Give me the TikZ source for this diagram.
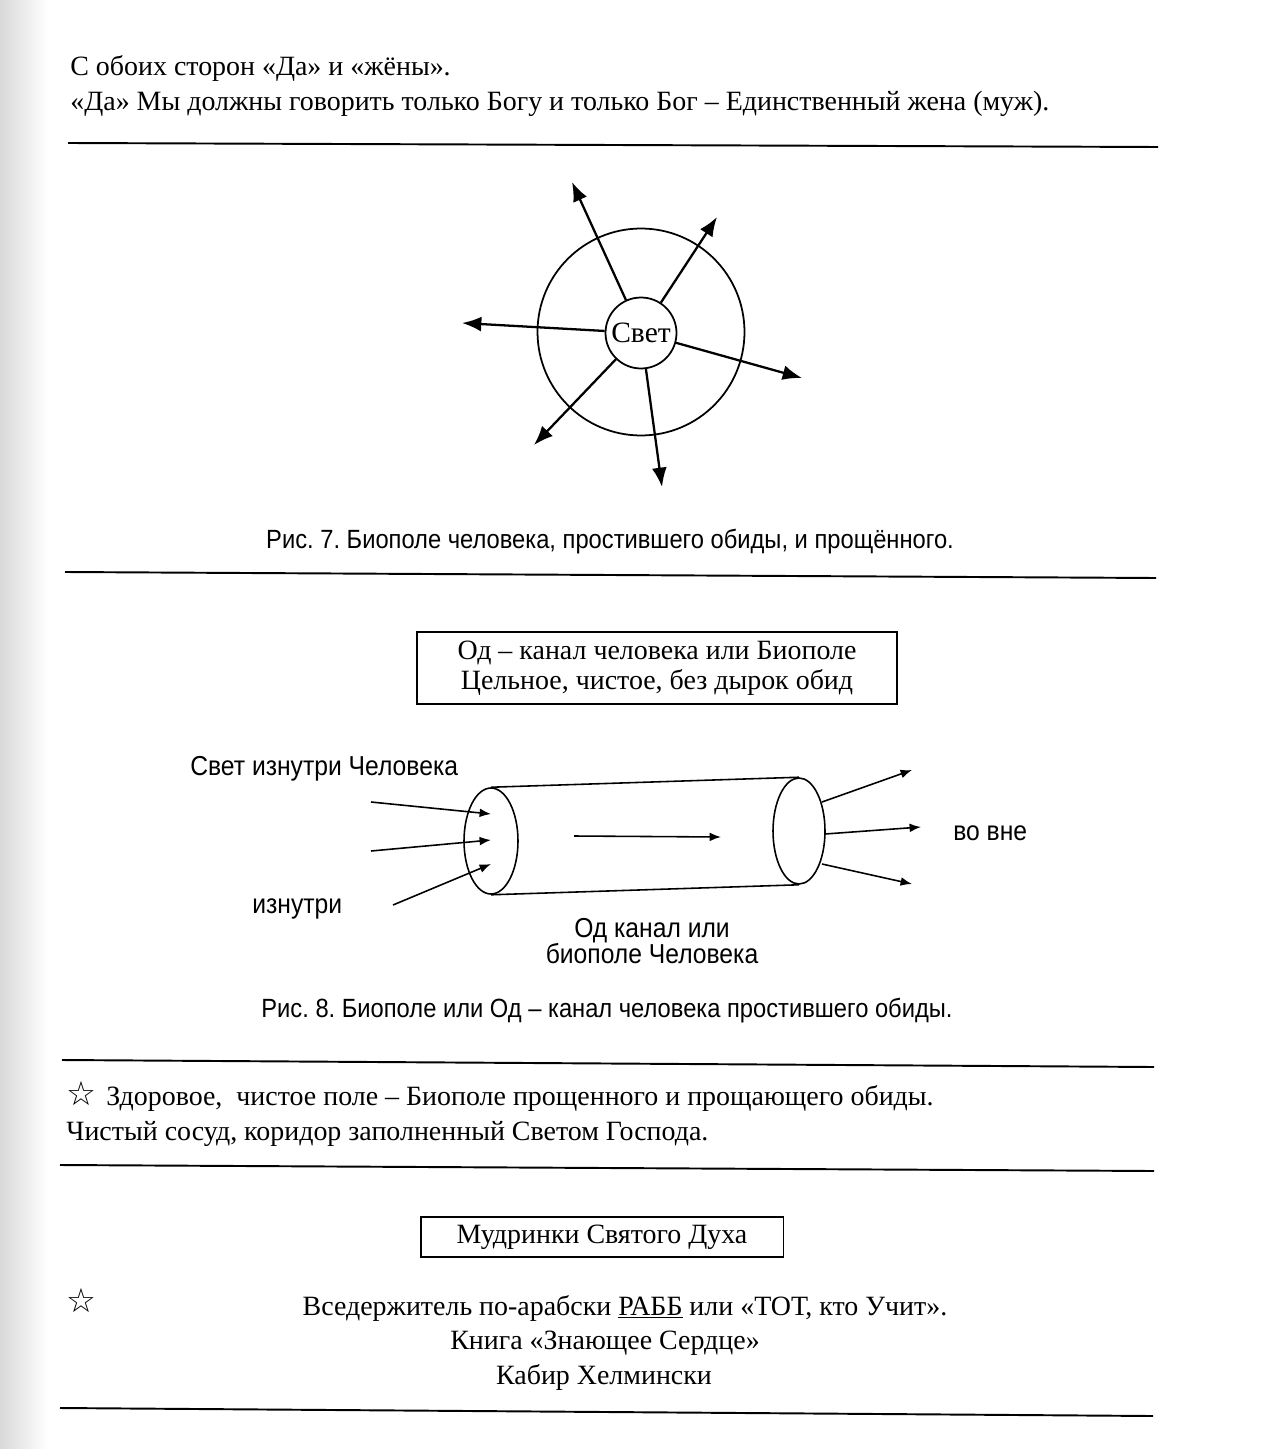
\documentclass[tikz,border=0pt]{standalone}
\usepackage{fontspec}
\setmainfont{Liberation Serif}
\newfontfamily\capfont[FakeStretch=0.9]{Liberation Sans}
\newfontfamily\symfont{DejaVu Sans}
\usetikzlibrary{positioning, arrows.meta, shapes.geometric, calc}
\frenchspacing

\begin{document}
\begin{tikzpicture}[
    x=0.02cm, y=-0.02cm,
    >=Latex,
    txt/.style={inner sep=0pt, font=\fontsize{15.9}{18}\selectfont},
    sanslbl/.style={inner sep=0pt, font=\capfont\fontsize{15.6}{18}\selectfont},
    figcap/.style={inner sep=0pt, font=\capfont\fontsize{15.0}{18}\selectfont},
    starmark/.style={inner sep=0pt, font=\symfont\fontsize{19}{19}\selectfont},
    hrule/.style={line width=1.1pt},
    boxed/.style={draw, line width=1.1pt, inner sep=0pt, align=center},
    ray/.style={-{Latex[length=11pt, width=8.5pt]}, line width=1.3pt},
    flow/.style={-{Latex[length=6.5pt, width=5pt]}, line width=0.9pt},
    ring/.style={circle, draw, line width=1pt, inner sep=0pt},
    endcap/.style={ellipse, draw, line width=0.9pt, inner sep=0pt},
]
\useasboundingbox (0,0) rectangle (1270,1449);

% scanned page edge
\shade[left color=gray!30, right color=white] (0,0) rectangle (48,1449);

% =============================================
% HEADER TEXT
% =============================================

\node[txt, anchor=base west] (head1) at (70,76) {С обоих сторон «Да» и «жёны».};
\node[txt, anchor=base west] (head2) at (70,111)
    {«Да» Мы должны говорить только Богу и только Бог – Единственный жена (муж).};
\draw[hrule] (68,143) -- (1158,147);

% =============================================
% FIG. 7: light radiating out of the biofield
% =============================================

\node[ring, minimum size=4.14cm] (field) at (641,332) {};
\node[ring, minimum size=1.42cm, font=\fontsize{16.8}{18}\selectfont] (light) at (641,333) {Свет};

% ray tips
\coordinate (r1) at (572,182);
\coordinate (r2) at (717,217);
\coordinate (r3) at (462,323);
\coordinate (r4) at (802,378);
\coordinate (r5) at (534,445);
\coordinate (r6) at (662,487);

\foreach \k in {1,...,6} {
    \draw[ray] (light) -- (r\k);
}

\node[figcap, anchor=base] (cap7) at (610,548)
    {Рис. 7. Биополе человека, простившего обиды, и прощённого.};
\draw[hrule] (65,572) -- (1156,578);

% =============================================
% FIG. 8: Od channel as a tube
% =============================================

\node[boxed, minimum width=9.6cm, minimum height=1.44cm,
      font=\fontsize{15.9}{16.8}\selectfont] (odbox) at (657,668)
    {Од – канал человека или Биополе\\Цельное, чистое, без дырок обид};

\node[sanslbl, anchor=base west] (srclbl) at (190,775) {Свет изнутри Человека};

% tube: two end ellipses joined top and bottom
\node[endcap, minimum width=1.08cm, minimum height=2.12cm] (inlet) at (491,841) {};
\node[endcap, minimum width=1.04cm, minimum height=2.12cm] (outlet) at (799,831) {};
\draw[line width=0.9pt] (inlet.north) -- (outlet.north);
\draw[line width=0.9pt] (inlet.south) -- (outlet.south);

% flow along the tube
\coordinate (f0) at (574,836);
\coordinate (f1) at (721,837);
\draw[flow] (f0) -- (f1);

% incoming rays
\coordinate (a1) at (371,802);  \coordinate (b1) at (491,814);
\coordinate (a2) at (371,851);  \coordinate (b2) at (491,840);
\coordinate (a3) at (393,905);  \coordinate (b3) at (491,864);
% outgoing rays
\coordinate (c1) at (822,802);  \coordinate (d1) at (912,770);
\coordinate (c2) at (825,834);  \coordinate (d2) at (921,827);
\coordinate (c3) at (822,864);  \coordinate (d3) at (912,884);

\foreach \k in {1,2,3} {
    \draw[flow] (a\k) -- (b\k);
    \draw[flow] (c\k) -- (d\k);
}

\node[sanslbl, anchor=base west] (outlbl) at (953,840) {во вне};
\node[sanslbl, anchor=base west] (inlbl) at (252,913) {изнутри};
\node[sanslbl, anchor=base] (chan1) at (652,937) {Од канал или};
\node[sanslbl, anchor=base] (chan2) at (652,963) {биополе Человека};

\node[figcap, anchor=base] (cap8) at (607,1017)
    {Рис. 8. Биополе или Од – канал человека простившего обиды.};
\draw[hrule] (62,1060) -- (1154,1067);

% =============================================
% NOTES
% =============================================

\node[starmark, anchor=base west] (star1) at (66,1105) {☆};
\node[txt, anchor=base west] (note1) at (106,1105)
    {Здоровое,~ чистое поле – Биополе прощенного и прощающего обиды.};
\node[txt, anchor=base west] (note2) at (66,1140)
    {Чистый сосуд, коридор заполненный Светом Господа.};
\draw[hrule] (60,1165) -- (1154,1171);

\node[boxed, minimum width=7.26cm, minimum height=0.8cm,
      font=\fontsize{15.9}{18}\selectfont] (wisdom) at (602,1237) {Мудринки Святого Духа};

\node[starmark, anchor=base west] (star2) at (66,1312) {☆};
\node[txt, anchor=base] (quote1) at (625,1315)
    {Вседержитель по-арабски \underline{РАББ} или «ТОТ, кто Учит».};
\node[txt, anchor=base] (quote2) at (605,1349) {Книга «Знающее Сердце»};
\node[txt, anchor=base] (quote3) at (604,1384) {Кабир Хелмински};
\draw[hrule] (60,1408) -- (1153,1416);

\end{tikzpicture}
\end{document}
